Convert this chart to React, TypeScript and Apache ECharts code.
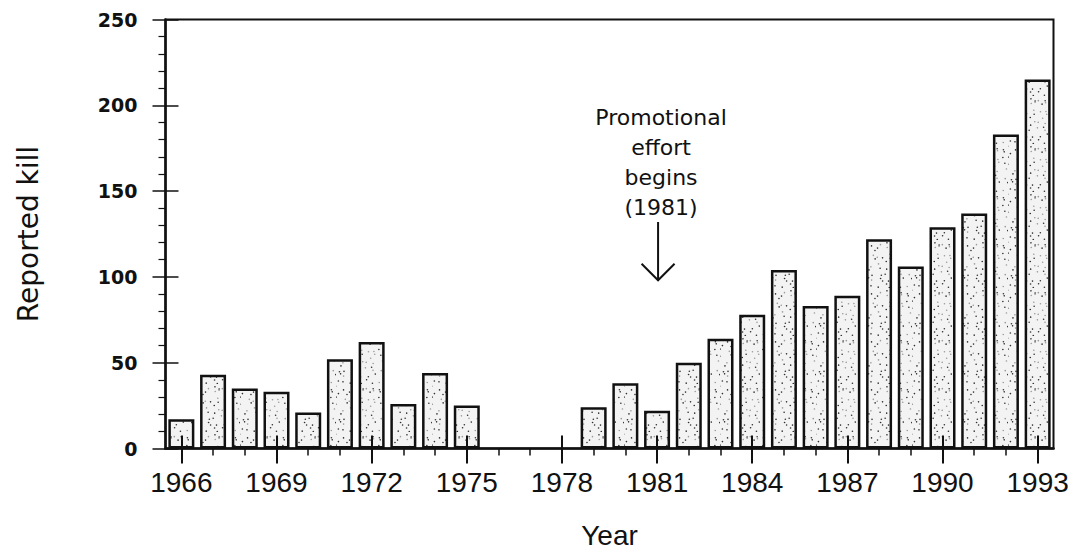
import React, { useEffect, useRef } from 'react';
import * as echarts from 'echarts';

// ---- data ----
const years: string[] = [
  '1966', '1967', '1968', '1969', '1970', '1971', '1972', '1973', '1974', '1975',
  '1976', '1977', '1978', '1979', '1980', '1981', '1982', '1983', '1984', '1985',
  '1986', '1987', '1988', '1989', '1990', '1991', '1992', '1993',
];
const reportedKill: (number | null)[] = [
  17, 43, 35, 33, 21, 52, 62, 26, 44, 25,
  null, null, null, 24, 38, 22, 50, 64, 78, 104,
  83, 89, 122, 106, 129, 137, 183, 215,
];
const yMin = 0;
const yMax = 250;
const yInterval = 50;
const annotationLines: string[] = ['Promotional', 'effort', 'begins', '(1981)'];
const annotationYear = '1981';
const arrowFromValue = 132;
const arrowToValue = 98;

function makeStipple(): HTMLCanvasElement {
  const size = 48;
  const c = document.createElement('canvas');
  c.width = size;
  c.height = size;
  const ctx = c.getContext('2d') as CanvasRenderingContext2D;
  ctx.fillStyle = '#f3f3f3';
  ctx.fillRect(0, 0, size, size);
  let s = 20240611;
  const next = () => {
    s = (Math.imul(s, 1103515245) + 12345) >>> 0;
    return s / 4294967296;
  };
  // jittered grid of dots
  const step = 6;
  for (let gy = 0; gy < size; gy += step) {
    for (let gx = 0; gx < size; gx += step) {
      const x = gx + next() * step;
      const y = gy + next() * step;
      ctx.fillStyle = next() < 0.65 ? '#2e2e2e' : '#9a9a9a';
      ctx.beginPath();
      ctx.arc(x, y, 0.8, 0, Math.PI * 2);
      ctx.fill();
    }
  }
  return c;
}

export default function App() {
  const ref = useRef<HTMLDivElement>(null);

  useEffect(() => {
    const el = ref.current;
    if (!el) return;
    const chart = echarts.init(el, null, { renderer: 'svg' });
    const stipple = makeStipple();
    const ink = '#111';
    const catBase: any = {
      type: 'category',
      data: years,
      boundaryGap: true,
      position: 'bottom',
      gridIndex: 0,
    };
    const valBase: any = {
      type: 'value',
      min: yMin,
      max: yMax,
      interval: yInterval,
      position: 'left',
      gridIndex: 0,
      splitLine: { show: false },
    };

    chart.setOption({
      animation: false,
      backgroundColor: '#ffffff',
      grid: {
        left: 165.5,
        right: 22.5,
        top: 19.5,
        bottom: 103.5,
        containLabel: false,
        outerBoundsMode: 'none',
        show: true,
        borderColor: ink,
        borderWidth: 2,
        backgroundColor: 'transparent',
      },
      xAxis: [
        {
          ...catBase,
          axisLine: { show: true, lineStyle: { color: ink, width: 2.5 } },
          axisTick: {
            show: true,
            alignWithLabel: true,
            interval: 0,
            length: 7,
            lineStyle: { color: ink, width: 1.5 },
          },
          axisLabel: {
            interval: 2,
            fontSize: 28,
            fontFamily: 'Liberation Sans',
            color: ink,
            margin: 20,
          },
          name: 'Year',
          nameLocation: 'middle',
          nameGap: 73,
          nameTextStyle: { fontSize: 28, fontFamily: 'Liberation Sans', color: ink },
        },
        {
          ...catBase,
          axisLine: { show: false },
          axisTick: {
            show: true,
            alignWithLabel: true,
            interval: 2,
            length: 15,
            lineStyle: { color: ink, width: 2 },
          },
          axisLabel: { show: false },
          z: 3,
        },
        {
          ...catBase,
          axisLine: { show: false },
          axisTick: {
            show: true,
            alignWithLabel: true,
            interval: 2,
            inside: true,
            length: 13,
            lineStyle: { color: ink, width: 2 },
          },
          axisLabel: { show: false },
          z: 3,
        },
      ],
      yAxis: [
        {
          ...valBase,
          axisLine: { show: true, lineStyle: { color: ink, width: 2.5 } },
          axisTick: { show: true, length: 13, lineStyle: { color: ink, width: 1.5 } },
          minorTick: { show: true, splitNumber: 5, length: 7, lineStyle: { color: ink, width: 1.2 } },
          axisLabel: {
            fontSize: 19,
            fontWeight: 'bold',
            fontFamily: 'DejaVu Sans',
            color: ink,
            margin: 28,
          },
          name: 'Reported kill',
          nameLocation: 'middle',
          nameRotate: 90,
          nameGap: 123,
          nameTextStyle: { fontSize: 28, fontFamily: 'DejaVu Sans', color: ink },
        },
        {
          ...valBase,
          axisLine: { show: false },
          axisTick: { show: true, inside: true, length: 13, lineStyle: { color: ink, width: 1.5 } },
          axisLabel: { show: false },
          z: 3,
        },
      ],
      series: [
        {
          type: 'bar',
          xAxisIndex: 0,
          yAxisIndex: 0,
          data: reportedKill,
          barWidth: 26,
          itemStyle: {
            color: { image: stipple, repeat: 'repeat' },
            borderColor: ink,
            borderWidth: 2.5,
          },
        },
      ],
    });

    const idx = years.indexOf(annotationYear);
    const top = chart.convertToPixel({ xAxisIndex: 0, yAxisIndex: 0 }, [idx, arrowFromValue]) as number[];
    const tip = chart.convertToPixel({ xAxisIndex: 0, yAxisIndex: 0 }, [idx, arrowToValue]) as number[];
    const ax = top[0] + 1;
    const head = 16.5;

    chart.setOption({
      graphic: [
        {
          type: 'text',
          x: ax + 3,
          y: top[1] + 0.5,
          style: {
            text: annotationLines.join('\n'),
            fontSize: 22,
            fontFamily: 'DejaVu Sans',
            fill: ink,
            align: 'center',
            verticalAlign: 'bottom',
            lineHeight: 30,
          },
        },
        {
          type: 'line',
          shape: { x1: ax, y1: top[1], x2: ax, y2: tip[1] },
          style: { stroke: ink, lineWidth: 2 },
        },
        {
          type: 'polyline',
          shape: { points: [[ax - head, tip[1] - head], [ax, tip[1]], [ax + head, tip[1] - head]] },
          style: { stroke: ink, lineWidth: 2, fill: 'none' },
        },
      ],
    });

    return () => {
      chart.dispose();
    };
  }, []);

  return (
    <div
      ref={ref}
      style={{ position: 'fixed', left: 0, top: 0, width: 1076, height: 552, background: '#fff' }}
    />
  );
}
